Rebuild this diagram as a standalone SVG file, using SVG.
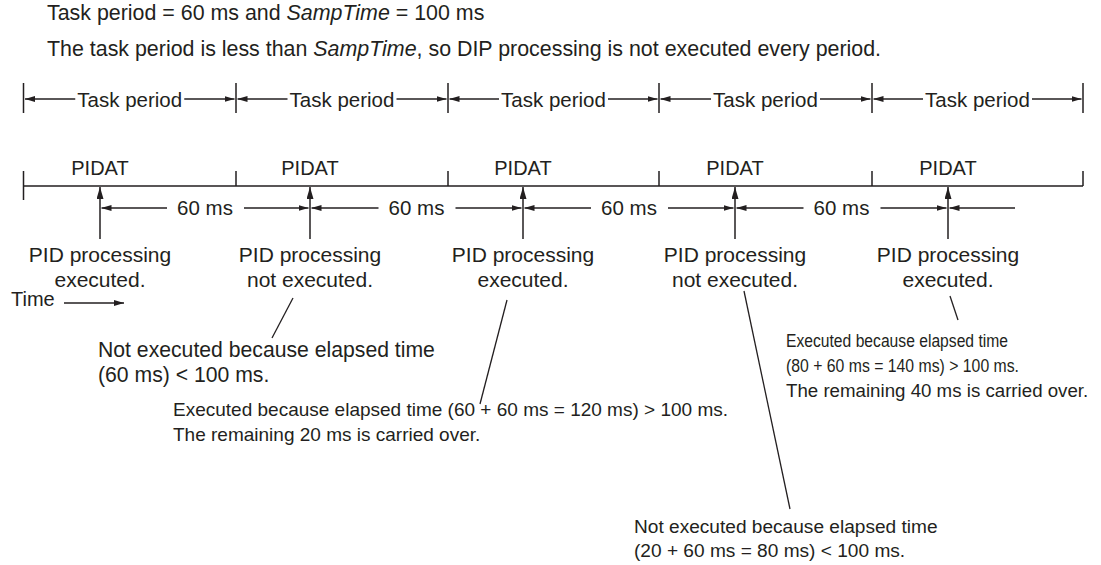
<svg xmlns="http://www.w3.org/2000/svg" width="1101" height="565" viewBox="0 0 1101 565">
<style>
text{font-family:"Liberation Sans",Arial,sans-serif;font-size:20px;fill:#231f20}
.h{font-size:21.4px}
.tp{font-size:20.5px}
.lb{font-size:21px}
.n1{font-size:21.2px}
.n2{font-size:19px}
.n3{font-size:18.7px}
.n4{font-size:19.1px}
.c{text-anchor:middle}
.i{font-style:italic}
.ln{stroke:#231f20;stroke-width:1.5;fill:none}
.ld{stroke:#231f20;stroke-width:1.3;fill:none}
.a{marker-end:url(#ah)}
.u{marker-end:url(#au)}
</style>
<defs>
<marker id="ah" viewBox="0 0 10 6" refX="10" refY="3" markerWidth="10" markerHeight="6" markerUnits="userSpaceOnUse" orient="auto"><path d="M0,0L10,3L0,6z" fill="#231f20"/></marker>
<marker id="au" viewBox="0 0 12 7" refX="12" refY="3.5" markerWidth="12" markerHeight="7" markerUnits="userSpaceOnUse" orient="auto"><path d="M0,0L12,3.5L0,7z" fill="#231f20"/></marker>
</defs>
<rect width="1101" height="565" fill="#ffffff"/>
<g id="header">
<text class="h" x="47" y="20">Task period = 60 ms and <tspan class="i">SampTime</tspan> = 100 ms</text>
<text class="h" x="47" y="56">The task period is less than <tspan class="i">SampTime</tspan>, so DIP processing is not executed every period.</text>
</g>
<g id="task-periods">
<path class="ln" d="M23.5,83V113M236,83V113M448,83V113M659,83V113M872,83V113M1083,83V113"/>
<text class="c tp" x="129.75" y="107">Task period</text>
<text class="c tp" x="342" y="107">Task period</text>
<text class="c tp" x="553.5" y="107">Task period</text>
<text class="c tp" x="765.5" y="107">Task period</text>
<text class="c tp" x="977.5" y="107">Task period</text>
</g>
<g id="timeline">
<path class="ln" d="M23.5,186H1083M23.5,171V200M236,171V186M448,171V186M659,171V186M872,171V186M1083,171V186"/>
<text class="c" x="100" y="175">PIDAT</text>
<text class="c" x="310" y="175">PIDAT</text>
<text class="c" x="523" y="175">PIDAT</text>
<text class="c" x="735" y="175">PIDAT</text>
<text class="c" x="948" y="175">PIDAT</text>
</g>
<g id="intervals">
<text class="c tp" x="205" y="215">60 ms</text>
<text class="c tp" x="416.5" y="215">60 ms</text>
<text class="c tp" x="629" y="215">60 ms</text>
<text class="c tp" x="841.5" y="215">60 ms</text>
</g>
<g id="pid1"><text class="c lb" x="100" y="262">PID processing</text><text class="c lb" x="100" y="287">executed.</text></g>
<g id="pid2"><text class="c lb" x="310" y="262">PID processing</text><text class="c lb" x="310" y="287">not executed.</text></g>
<g id="pid3"><text class="c lb" x="523" y="262">PID processing</text><text class="c lb" x="523" y="287">executed.</text></g>
<g id="pid4"><text class="c lb" x="735" y="262">PID processing</text><text class="c lb" x="735" y="287">not executed.</text></g>
<g id="pid5"><text class="c lb" x="948" y="262">PID processing</text><text class="c lb" x="948" y="287">executed.</text></g>
<g id="time-label"><text x="11" y="306">Time</text></g>
<g id="note1"><text class="n1" x="98" y="357">Not executed because elapsed time</text><text class="n1" x="98" y="382">(60 ms) &lt; 100 ms.</text></g>
<g id="note2"><text class="n2" x="173" y="416">Executed because elapsed time (60 + 60 ms = 120 ms) &gt; 100 ms.</text><text class="n2" x="173" y="441">The remaining 20 ms is carried over.</text></g>
<g id="note3"><text class="n3" x="786" y="347" textLength="222" lengthAdjust="spacingAndGlyphs">Executed because elapsed time</text><text class="n3" x="786" y="372" textLength="233" lengthAdjust="spacingAndGlyphs">(80 + 60 ms = 140 ms) &gt; 100 ms.</text><text class="n3" x="786" y="397">The remaining 40 ms is carried over.</text></g>
<g id="note4"><text class="n4" x="634" y="533">Not executed because elapsed time</text><text class="n4" x="634" y="557">(20 + 60 ms = 80 ms) &lt; 100 ms.</text></g>
<g id="connectors">
<path class="ln a" d="M75.25,99H25"/><path class="ln a" d="M184.25,99H234.5"/>
<path class="ln a" d="M287.5,99H237.5"/><path class="ln a" d="M396.5,99H446.5"/>
<path class="ln a" d="M499,99H449.5"/><path class="ln a" d="M608,99H657.5"/>
<path class="ln a" d="M711,99H660.5"/><path class="ln a" d="M820,99H870.5"/>
<path class="ln a" d="M923,99H873.5"/><path class="ln a" d="M1032,99H1081.5"/>
<path class="ln u" d="M100,239V187"/>
<path class="ln u" d="M310,239V187"/>
<path class="ln u" d="M523,239V187"/>
<path class="ln u" d="M735,239V187"/>
<path class="ln u" d="M948,239V187"/>
<path class="ln a" d="M167,208H101.5"/><path class="ln a" d="M244,208H308.5"/>
<path class="ln a" d="M378.5,208H311.5"/><path class="ln a" d="M455.5,208H521.5"/>
<path class="ln a" d="M591,208H524.5"/><path class="ln a" d="M668,208H733.5"/>
<path class="ln a" d="M803.5,208H736.5"/><path class="ln a" d="M880.5,208H946.5"/>
<path class="ln a" d="M1015,208H949.5"/>
<path class="ln a" d="M64,303H124"/>
<path class="ld" d="M293,298L272,338"/>
<path class="ld" d="M507,300L480,404"/>
<path class="ld" d="M744,291L790,509"/>
<path class="ld" d="M950,296L958,320"/>
</g>
</svg>
